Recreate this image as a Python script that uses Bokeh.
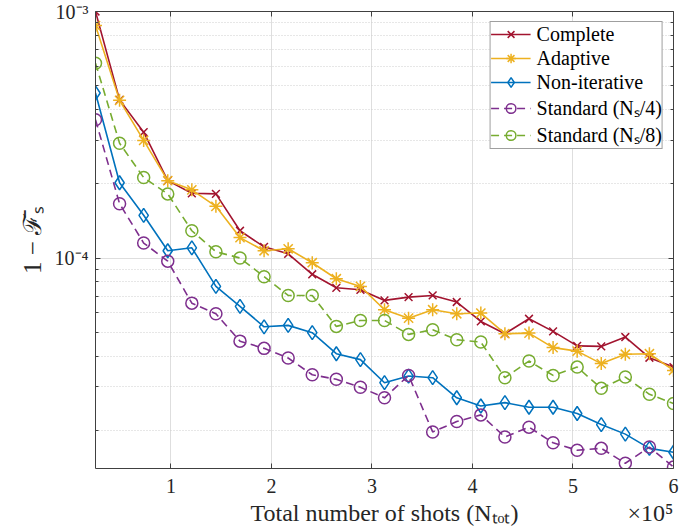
from bokeh.plotting import figure
from bokeh.models import (FixedTicker, LinearAxis, LogAxis, Legend, LegendItem,
                          CustomJSTickFormatter, Range1d)
from bokeh.embed import file_html
from bokeh.resources import INLINE

# ---------------- data ----------------
shots = [25000, 48958, 72917, 96875, 120833, 144792, 168750, 192708, 216667, 240625,
         264583, 288542, 312500, 336458, 360417, 384375, 408333, 432292, 456250, 480208,
         504167, 528125, 552083, 576042, 600000]

complete = [1.00e-3, 4.38e-4, 3.24e-4, 2.06e-4, 1.83e-4, 1.82e-4, 1.29e-4, 1.11e-4, 1.04e-4, 8.59e-5,
            7.57e-5, 7.43e-5, 6.73e-5, 6.94e-5, 7.05e-5, 6.63e-5, 5.53e-5, 4.93e-5, 5.67e-5, 5.04e-5,
            4.40e-5, 4.38e-5, 4.78e-5, 3.94e-5, 3.61e-5]
adaptive = [8.77e-4, 4.36e-4, 3.00e-4, 2.06e-4, 1.89e-4, 1.62e-4, 1.21e-4, 1.07e-4, 1.09e-4, 9.57e-5,
            8.24e-5, 7.67e-5, 6.17e-5, 5.70e-5, 6.17e-5, 5.94e-5, 5.98e-5, 4.93e-5, 4.96e-5, 4.33e-5,
            4.19e-5, 3.73e-5, 4.07e-5, 4.09e-5, 3.50e-5]
non_iterative = [4.67e-4, 2.02e-4, 1.49e-4, 1.07e-4, 1.10e-4, 7.67e-5, 6.37e-5, 5.26e-5, 5.33e-5, 4.98e-5,
                 4.09e-5, 3.87e-5, 3.12e-5, 3.32e-5, 3.27e-5, 2.71e-5, 2.51e-5, 2.59e-5, 2.48e-5, 2.48e-5,
                 2.34e-5, 2.11e-5, 1.93e-5, 1.69e-5, 1.63e-5]
standard_4 = [3.64e-4, 1.66e-4, 1.15e-4, 9.71e-5, 6.56e-5, 5.94e-5, 4.60e-5, 4.30e-5, 3.93e-5, 3.36e-5,
              3.22e-5, 2.99e-5, 2.71e-5, 3.34e-5, 1.97e-5, 2.17e-5, 2.31e-5, 1.88e-5, 2.06e-5, 1.78e-5,
              1.66e-5, 1.69e-5, 1.47e-5, 1.71e-5, 1.42e-5]
standard_8 = [6.17e-4, 2.92e-4, 2.12e-4, 1.82e-4, 1.29e-4, 1.06e-4, 1.00e-4, 8.40e-5, 7.05e-5, 7.05e-5,
              5.28e-5, 5.58e-5, 5.58e-5, 4.90e-5, 5.12e-5, 4.66e-5, 4.56e-5, 3.27e-5, 3.82e-5, 3.34e-5,
              3.61e-5, 2.96e-5, 3.29e-5, 2.80e-5, 2.57e-5]

x_ticks = [100000, 200000, 300000, 400000, 500000, 600000]
y_ticks = [1e-4, 1e-3]
y_minor = [m * 10.0 ** e for e in (-5, -4) for m in range(2, 10)]

labels = ["Complete", "Adaptive", "Non-iterative", "Standard (Nₛ/4)", "Standard (Nₛ/8)"]
colors = ["#A2142F", "#EDB120", "#0072BD", "#7E2F8E", "#77AC30"]
markers = ["x", "asterisk", "diamond", "circle", "circle"]
marker_sizes = [11, 13, 14, 12, 12]
dashes = ["solid", "solid", "solid", "8 5", "8 5"]
series = [complete, adaptive, non_iterative, standard_4, standard_8]

# x-axis title row: the title (centred) and the x10^5 multiplier (right)
xtitle_texts = ["Total number of shots (Nₜₒₜ)", "×10⁵"]
xtitle_pos = [312500, 577000]

FONT = "Liberation Serif"
AX = "#404040"
TXT = "#262626"

p = figure(width=680, height=531, y_axis_type="log",
           x_range=Range1d(25000, 600000), y_range=Range1d(1.4e-5, 1e-3),
           output_backend="svg", toolbar_location=None,
           min_border_left=95, min_border_right=7, min_border_top=11, min_border_bottom=63)
p.outline_line_color = None
p.background_fill_color = "white"

xt = FixedTicker(ticks=x_ticks)
yt = FixedTicker(ticks=y_ticks, minor_ticks=y_minor)

xfmt = CustomJSTickFormatter(code="return (tick/1e5).toFixed(0);")
yfmt = CustomJSTickFormatter(code="""
const e = Math.round(Math.log10(tick));
const sup = {'-':'\u207b','0':'\u2070','1':'\u00b9','2':'\u00b2','3':'\u00b3','4':'\u2074','5':'\u2075','6':'\u2076','7':'\u2077','8':'\u2078','9':'\u2079'};
return '10' + String(e).split('').map(c => sup[c]).join('');
""")

def style_axis(ax):
    ax.axis_line_color = AX
    ax.axis_line_width = 1
    ax.major_tick_line_color = AX
    ax.minor_tick_line_color = AX
    ax.major_tick_in = 5
    ax.major_tick_out = 0
    ax.minor_tick_in = 3
    ax.minor_tick_out = 0
    ax.major_label_text_font = FONT
    ax.major_label_text_color = TXT
    ax.axis_label_text_font = FONT
    ax.axis_label_text_color = TXT
    ax.axis_label_text_font_style = "normal"

def hide_labels(ax):
    ax.major_label_text_color = None
    ax.major_label_standoff = 0

# bottom x axis (tick numbers)
xa = p.xaxis[0]
xa.ticker = xt
xa.formatter = xfmt
style_axis(xa)
xa.minor_tick_line_color = None
xa.major_label_text_font_size = "20px"
xa.major_label_standoff = 10

# second row below: axis title + multiplier, as plain text labels
title_axis = LinearAxis(
    ticker=FixedTicker(ticks=xtitle_pos),
    formatter=CustomJSTickFormatter(
        args=dict(pos=xtitle_pos, texts=xtitle_texts),
        code="const i = pos.indexOf(tick); return i >= 0 ? texts[i] : '';"))
title_axis.axis_line_color = None
title_axis.major_tick_line_color = None
title_axis.minor_tick_line_color = None
title_axis.major_tick_in = 0
title_axis.major_tick_out = 0
title_axis.major_label_standoff = 4
title_axis.major_label_text_font = FONT
title_axis.major_label_text_font_size = "24px"
title_axis.major_label_text_color = TXT
p.add_layout(title_axis, "below")

# left y axis
ya = p.yaxis[0]
ya.ticker = yt
ya.formatter = yfmt
style_axis(ya)
ya.major_label_text_font_size = "20px"
ya.major_label_standoff = 7
ya.axis_label = "1 − ℱ̄ₛ"
ya.axis_label_text_font_size = "25px"
ya.axis_label_standoff = 6

# box axes (top / right): ticks only, no labels
blank = CustomJSTickFormatter(code="return '';")
top = LinearAxis(ticker=xt, formatter=blank)
style_axis(top)
hide_labels(top)
top.minor_tick_line_color = None
p.add_layout(top, "above")
right = LogAxis(ticker=yt, formatter=blank)
style_axis(right)
hide_labels(right)
p.add_layout(right, "right")

# grids
p.xgrid.ticker = xt
p.ygrid.ticker = yt
p.xgrid.grid_line_color = "#DEDEDE"
p.ygrid.grid_line_color = "#DEDEDE"
p.ygrid.minor_grid_line_color = "#CFCFCF"
p.ygrid.minor_grid_line_dash = "1 2"

items = []
for lab, ys, c, m, ms, d in zip(labels, series, colors, markers, marker_sizes, dashes):
    lr = p.line(shots, ys, line_color=c, line_width=1.6, line_dash=d)
    sr = p.scatter(shots, ys, marker=m, size=ms, line_color=c, fill_color=None, line_width=1.5)
    items.append(LegendItem(label=lab, renderers=[lr, sr]))

legend = Legend(items=items, location="top_right", margin=10)
legend.label_text_font = FONT
legend.label_text_font_size = "20px"
legend.label_text_color = "black"
legend.border_line_color = AX
legend.border_line_width = 1
legend.background_fill_color = "white"
legend.background_fill_alpha = 1
legend.padding = 0
legend.spacing = 0
legend.label_height = 24
legend.glyph_height = 24
legend.glyph_width = 40
legend.label_standoff = 6
p.add_layout(legend, "center")

open("out.html", "w").write(file_html(p, INLINE))
